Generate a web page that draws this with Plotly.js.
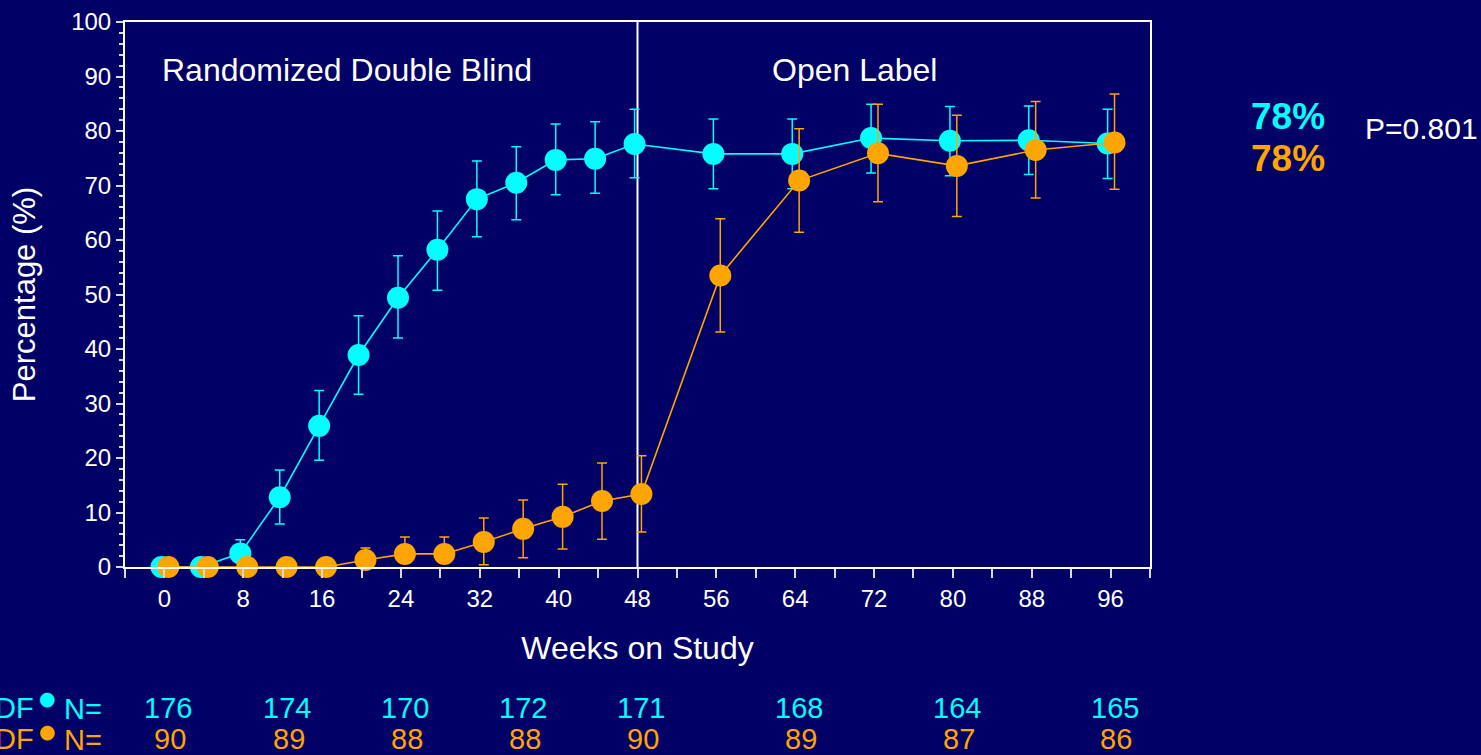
<!DOCTYPE html>
<html>
<head>
<meta charset="utf-8">
<script src="https://cdn.plot.ly/plotly-3.0.1.min.js"></script>
<style>
html,body{margin:0;padding:0;background:#000066;}
#chart{width:1481px;height:755px;}
</style>
</head>
<body>
<div id="chart"></div>
<script>
// ---- data ----
var weeks = [0,4,8,12,16,20,24,28,32,36,40,44,48,56,64,72,80,88,96];

var cyanValues = [0,0,2.5,12.8,25.9,38.9,49.4,58.2,67.5,70.5,74.7,74.9,77.6,75.8,75.8,78.7,78.2,78.3,77.7];
var cyanUpper  = [0,0,5.0,17.8,32.4,46.1,57.1,65.3,74.5,77.1,81.3,81.7,84.0,82.2,82.2,84.9,84.5,84.6,84.0];
var cyanLower  = [0,0,2.5,7.9,19.6,31.7,42.0,50.8,60.6,63.7,68.3,68.6,71.4,69.4,69.4,72.3,71.8,72.0,71.3];

var orangeValues = [0,0,0,0,0,1.3,2.4,2.4,4.6,7.0,9.2,12.1,13.4,53.5,70.9,75.9,73.6,76.5,77.9];
var orangeUpper  = [0,0,0,0,0,3.5,5.5,5.5,9.0,12.3,15.2,19.1,20.4,63.9,80.4,84.9,82.9,85.4,86.8];
var orangeLower  = [0,0,0,0,0,1.3,2.4,2.4,0.4,1.7,3.3,5.1,6.4,43.1,61.4,67.0,64.3,67.7,69.3];

var nWeeks  = [0,12,24,36,48,64,80,96];
var nCyan   = [176,174,170,172,171,168,164,165];
var nOrange = [90,89,88,88,90,89,87,86];

var finalCyan = "78%";
var finalOrange = "78%";
var pValue = "P=0.801";

var phaseLabels = ["Randomized Double Blind", "Open Label"];
var phaseX = [18.5, 70];
var phaseSplit = 48;

// ---- styles ----
var BG = "#000066";
var CYAN = "#00FFFF";
var ORANGE = "#FFA500";
var FONT = "Liberation Sans, Arial, sans-serif";

var W = 1481, H = 755;
var M = {l:125, r:331, t:22, b:188};
function px2x(px){ return (px - M.l) / (W - M.l - M.r); }
function py2y(py){ return (H - M.b - py) / (H - M.t - M.b); }

function diff(a, b){ return a.map(function(v,i){ return Math.max(0, v - b[i]); }); }

var cyanTrace = {
  x: weeks.map(function(w){ return w - 0.3; }),
  y: cyanValues,
  type: "scatter",
  mode: "lines+markers",
  cliponaxis: false,
  line: {color: CYAN, width: 1.6},
  marker: {color: CYAN, size: 22, symbol: "circle"},
  error_y: {type: "data", symmetric: false,
            array: diff(cyanUpper, cyanValues),
            arrayminus: diff(cyanValues, cyanLower),
            color: CYAN, thickness: 1.5, width: 5},
  hoverinfo: "x+y"
};
var orangeTrace = {
  x: weeks.map(function(w){ return w + 0.4; }),
  y: orangeValues,
  type: "scatter",
  mode: "lines+markers",
  cliponaxis: false,
  line: {color: ORANGE, width: 1.6},
  marker: {color: ORANGE, size: 22, symbol: "circle"},
  error_y: {type: "data", symmetric: false,
            array: diff(orangeUpper, orangeValues),
            arrayminus: diff(orangeValues, orangeLower),
            color: ORANGE, thickness: 1.5, width: 5},
  hoverinfo: "x+y"
};

var ROW1 = 708, ROW2 = 739, NSIZE = 29;
var annotations = [];
phaseLabels.forEach(function(t, i){
  annotations.push({x: phaseX[i], y: 91.2, xref: "x", yref: "y", text: t, showarrow: false,
    font: {family: FONT, size: 32, color: "white"}, xanchor: "center", yanchor: "middle"});
});
nWeeks.forEach(function(w, i){
  annotations.push({x: w + 0.4, y: py2y(ROW1), xref: "x", yref: "paper", text: String(nCyan[i]),
    showarrow: false, font: {family: FONT, size: NSIZE, color: CYAN}, xanchor: "center", yanchor: "middle"});
  annotations.push({x: w + 0.6, y: py2y(ROW2), xref: "x", yref: "paper", text: String(nOrange[i]),
    showarrow: false, font: {family: FONT, size: NSIZE, color: ORANGE}, xanchor: "center", yanchor: "middle"});
});
// left row labels
annotations.push({x: px2x(36), y: py2y(ROW1), xref: "paper", yref: "paper", text: "DF", showarrow: false,
  font: {family: FONT, size: NSIZE, color: CYAN}, xanchor: "right", yanchor: "middle"});
annotations.push({x: px2x(36), y: py2y(ROW2), xref: "paper", yref: "paper", text: "DF", showarrow: false,
  font: {family: FONT, size: NSIZE, color: ORANGE}, xanchor: "right", yanchor: "middle"});
annotations.push({x: px2x(47), y: py2y(698), xref: "paper", yref: "paper", text: "●", showarrow: false,
  font: {family: "DejaVu Sans", size: 19, color: CYAN}, xanchor: "center", yanchor: "middle"});
annotations.push({x: px2x(47), y: py2y(731), xref: "paper", yref: "paper", text: "●", showarrow: false,
  font: {family: "DejaVu Sans", size: 19, color: ORANGE}, xanchor: "center", yanchor: "middle"});
annotations.push({x: px2x(62), y: py2y(ROW1 + 1), xref: "paper", yref: "paper", text: "N=", showarrow: false,
  font: {family: FONT, size: NSIZE, color: CYAN}, xanchor: "left", yanchor: "middle"});
annotations.push({x: px2x(62), y: py2y(ROW2 + 1), xref: "paper", yref: "paper", text: "N=", showarrow: false,
  font: {family: FONT, size: NSIZE, color: ORANGE}, xanchor: "left", yanchor: "middle"});
// right side summary
annotations.push({x: px2x(1288), y: py2y(116), xref: "paper", yref: "paper", text: "<b>" + finalCyan + "</b>",
  showarrow: false, font: {family: FONT, size: 37, color: CYAN}, xanchor: "center", yanchor: "middle"});
annotations.push({x: px2x(1288), y: py2y(158), xref: "paper", yref: "paper", text: "<b>" + finalOrange + "</b>",
  showarrow: false, font: {family: FONT, size: 37, color: ORANGE}, xanchor: "center", yanchor: "middle"});
annotations.push({x: px2x(1363), y: py2y(128), xref: "paper", yref: "paper", text: pValue,
  showarrow: false, font: {family: FONT, size: 30, color: "white"}, xanchor: "left", yanchor: "middle"});

var layout = {
  width: W, height: H,
  margin: M,
  paper_bgcolor: BG,
  plot_bgcolor: BG,
  showlegend: false,
  font: {family: FONT, color: "white"},
  xaxis: {
    range: [-4, 100],
    tickmode: "linear", tick0: 0, dtick: 8,
    ticks: "outside", ticklen: 9, tickwidth: 2, tickcolor: "#d8d8e8",
    minor: {dtick: 4, tick0: 0, ticks: "outside", ticklen: 9, tickwidth: 2, tickcolor: "#d8d8e8", showgrid: false},
    showline: true, linecolor: "white", linewidth: 2, mirror: true,
    showgrid: false, zeroline: false,
    tickfont: {family: FONT, size: 24, color: "white"},
    title: {text: "Weeks on Study", font: {family: FONT, size: 32, color: "white"}, standoff: 26},
    layer: "above traces"
  },
  yaxis: {
    range: [0, 100],
    tickmode: "linear", tick0: 0, dtick: 10,
    ticks: "outside", ticklen: 7, tickwidth: 2, tickcolor: "#d8d8e8",
    minor: {dtick: 2, ticks: "outside", ticklen: 4, tickwidth: 2, tickcolor: "#d8d8e8", showgrid: false},
    showline: true, linecolor: "white", linewidth: 2, mirror: true,
    showgrid: false, zeroline: false,
    tickfont: {family: FONT, size: 24, color: "white"},
    title: {text: "Percentage (%)", font: {family: FONT, size: 31, color: "white"}, standoff: 26},
    layer: "above traces"
  },
  shapes: [{type: "line", xref: "x", yref: "paper", x0: phaseSplit, x1: phaseSplit, y0: 0, y1: 1,
            line: {color: "white", width: 2}, layer: "below"}],
  annotations: annotations
};

Plotly.newPlot("chart", [cyanTrace, orangeTrace], layout, {displayModeBar: false, staticPlot: true});
</script>
</body>
</html>
